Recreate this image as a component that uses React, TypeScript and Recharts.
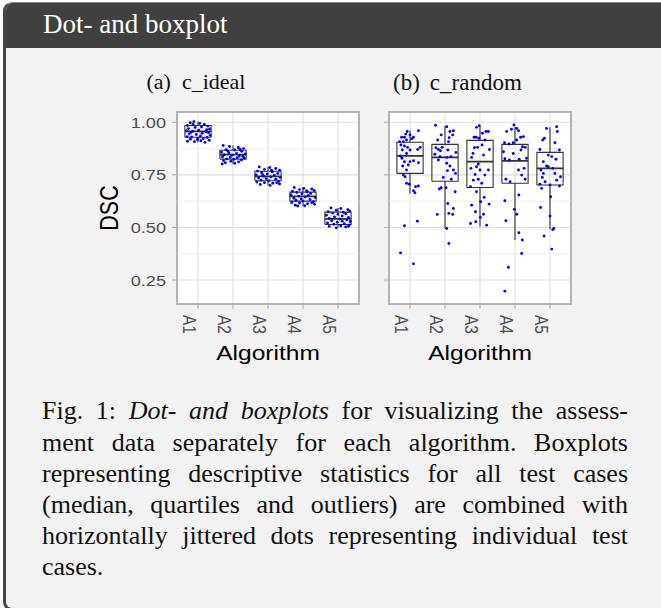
import React from 'react';
import {
  ComposedChart,
  XAxis,
  YAxis,
  CartesianGrid,
  Scatter,
  Line,
  ReferenceLine,
  ReferenceArea,
} from 'recharts';

// ---------- data ----------
const ALGORITHMS = ['A1', 'A2', 'A3', 'A4', 'A5'];
const Y_TICKS = [0.25, 0.5, 0.75, 1.0];
const Y_MINOR = [0.375, 0.625, 0.875];
const Y_DOMAIN: [number, number] = [0.136, 1.049];
const X_DOMAIN: [number, number] = [0.4, 5.6];

// each point: [horizontal jitter (category units), DSC]
const idealA1 = [
  [-0.3, 0.985], [-0.22, 0.998], [-0.12, 1.003], [0.05, 0.995], [0.18, 0.99], [0.28, 0.982],
  [-0.27, 0.97], [-0.08, 0.975], [0.1, 0.978], [0.33, 0.968], [-0.33, 0.96], [-0.15, 0.958],
  [0.02, 0.962], [0.22, 0.955], [0.3, 0.95], [-0.25, 0.945], [-0.05, 0.942], [0.12, 0.948],
  [0.35, 0.938], [-0.31, 0.932], [-0.18, 0.93], [0.07, 0.935], [0.26, 0.928], [-0.22, 0.92],
  [-0.02, 0.918], [0.15, 0.922], [0.32, 0.915], [-0.3, 0.91], [-0.1, 0.908], [0.2, 0.905],
  [0.08, 0.912], [-0.14, 0.99], [0.25, 0.965], [-0.2, 0.952], [0.0, 0.925],
];
const idealA2 = [
  [-0.28, 0.89], [-0.1, 0.885], [0.15, 0.88], [0.3, 0.875], [-0.2, 0.87], [0.05, 0.868],
  [0.25, 0.862], [-0.33, 0.858], [-0.12, 0.855], [0.1, 0.852], [0.35, 0.85], [-0.25, 0.846],
  [-0.03, 0.843], [0.18, 0.84], [-0.3, 0.836], [-0.08, 0.834], [0.12, 0.832], [0.32, 0.83],
  [-0.18, 0.826], [0.02, 0.824], [0.24, 0.821], [-0.27, 0.818], [-0.06, 0.815], [0.16, 0.812],
  [-0.22, 0.808], [0.05, 0.805], [-0.31, 0.802], [0.28, 0.838], [-0.15, 0.864], [0.2, 0.872],
];
const idealA3 = [
  [-0.25, 0.788], [0.05, 0.785], [0.22, 0.78], [-0.1, 0.776], [0.33, 0.772], [-0.3, 0.768],
  [0.12, 0.765], [-0.18, 0.76], [0.28, 0.757], [-0.02, 0.754], [-0.34, 0.75], [0.18, 0.747],
  [-0.12, 0.744], [0.08, 0.74], [0.35, 0.738], [-0.27, 0.735], [-0.05, 0.732], [0.22, 0.729],
  [-0.2, 0.725], [0.02, 0.722], [0.3, 0.719], [-0.32, 0.716], [-0.1, 0.713], [0.14, 0.71],
  [0.33, 0.707], [-0.22, 0.704], [0.06, 0.7], [0.25, 0.712], [-0.15, 0.75], [0.1, 0.772],
];
const idealA4 = [
  [-0.25, 0.69], [0.02, 0.686], [0.25, 0.683], [-0.1, 0.68], [0.32, 0.676], [-0.3, 0.672],
  [0.12, 0.67], [-0.18, 0.666], [0.22, 0.662], [-0.03, 0.659], [-0.34, 0.655], [0.15, 0.652],
  [-0.12, 0.649], [0.06, 0.645], [0.35, 0.642], [-0.26, 0.639], [-0.05, 0.636], [0.2, 0.633],
  [-0.2, 0.629], [0.0, 0.626], [0.3, 0.623], [-0.32, 0.619], [-0.1, 0.616], [0.13, 0.613],
  [0.33, 0.61], [-0.22, 0.606], [0.05, 0.603], [0.25, 0.617], [-0.15, 0.602], [0.1, 0.675],
];
const idealA5 = [
  [-0.2, 0.593], [0.08, 0.59], [0.28, 0.585], [-0.05, 0.582], [0.33, 0.578], [-0.28, 0.575],
  [0.15, 0.572], [-0.15, 0.568], [0.22, 0.565], [0.0, 0.562], [-0.33, 0.558], [0.12, 0.555],
  [-0.1, 0.55], [0.3, 0.547], [-0.25, 0.543], [0.05, 0.54], [0.25, 0.536], [-0.18, 0.532],
  [0.35, 0.528], [-0.02, 0.525], [-0.3, 0.521], [0.18, 0.518], [-0.12, 0.515], [0.32, 0.512],
  [0.08, 0.508], [-0.25, 0.505], [0.22, 0.502], [-0.05, 0.498], [0.3, 0.506], [0.12, 0.53],
];

const randomA1 = [
  [0.24, 0.96], [-0.08, 0.956], [-0.12, 0.944], [0.0, 0.94], [-0.24, 0.929], [-0.16, 0.929],
  [-0.3, 0.908], [-0.19, 0.908], [-0.1, 0.916], [0.05, 0.922], [0.1, 0.929], [-0.26, 0.892],
  [-0.16, 0.887], [0.29, 0.881], [0.22, 0.871], [-0.22, 0.868], [0.0, 0.868], [-0.07, 0.881],
  [-0.27, 0.84], [-0.23, 0.829], [-0.1, 0.852], [-0.16, 0.813], [0.0, 0.813], [0.1, 0.817],
  [0.24, 0.808], [-0.21, 0.792], [-0.05, 0.797], [-0.1, 0.773], [-0.19, 0.749], [-0.14, 0.741],
  [-0.1, 0.71], [-0.02, 0.706], [0.16, 0.694], [0.24, 0.697], [0.14, 0.665], [0.1, 0.675],
  [-0.16, 0.508], [0.21, 0.53], [-0.27, 0.379], [0.1, 0.327],
];
const randomA2 = [
  [-0.27, 0.986], [0.05, 0.979], [0.24, 0.96], [0.14, 0.956], [-0.11, 0.94], [0.22, 0.94],
  [-0.21, 0.916], [0.12, 0.927], [0.1, 0.908], [-0.26, 0.879], [-0.19, 0.871], [-0.13, 0.865],
  [-0.08, 0.881], [0.08, 0.868], [-0.29, 0.848], [-0.14, 0.837], [0.05, 0.833], [0.17, 0.837],
  [0.31, 0.857], [-0.19, 0.821], [0.05, 0.805], [0.14, 0.792], [0.07, 0.77], [0.24, 0.773],
  [0.3, 0.757], [-0.05, 0.738], [0.18, 0.729], [-0.11, 0.689], [-0.16, 0.683], [0.03, 0.689],
  [0.08, 0.614], [0.24, 0.59], [0.11, 0.567], [0.22, 0.562], [-0.22, 0.562], [0.05, 0.495],
  [0.11, 0.424], [0.29, 0.67],
];
const randomA3 = [
  [-0.02, 0.984], [-0.1, 0.976], [0.17, 0.956], [0.07, 0.948], [0.24, 0.956], [-0.17, 0.929],
  [-0.11, 0.929], [-0.03, 0.924], [-0.16, 0.879], [-0.07, 0.881], [0.06, 0.892], [0.14, 0.916],
  [-0.2, 0.852], [-0.24, 0.833], [0.1, 0.844], [0.27, 0.871], [-0.05, 0.802], [-0.1, 0.789],
  [-0.26, 0.781], [0.0, 0.773], [-0.14, 0.752], [0.14, 0.749], [0.24, 0.773], [-0.19, 0.725],
  [-0.05, 0.729], [0.05, 0.71], [-0.27, 0.694], [-0.1, 0.67], [0.12, 0.643], [0.02, 0.622],
  [-0.24, 0.606], [0.26, 0.611], [-0.13, 0.575], [0.1, 0.563], [-0.27, 0.519], [-0.12, 0.527],
  [0.19, 0.511], [0.01, 0.548],
];
const randomA4 = [
  [-0.03, 0.987], [0.05, 0.971], [-0.1, 0.967], [0.1, 0.96], [-0.24, 0.956], [0.16, 0.929],
  [0.24, 0.932], [0.05, 0.916], [-0.05, 0.903], [-0.3, 0.903], [-0.17, 0.897], [0.21, 0.884],
  [0.29, 0.881], [0.17, 0.868], [-0.33, 0.86], [-0.05, 0.852], [0.12, 0.824], [-0.29, 0.827],
  [-0.16, 0.821], [0.33, 0.829], [0.26, 0.781], [0.1, 0.773], [0.19, 0.749], [0.29, 0.729],
  [-0.26, 0.729], [-0.14, 0.717], [0.11, 0.654], [-0.29, 0.627], [-0.02, 0.586], [0.05, 0.563],
  [-0.26, 0.532], [0.11, 0.475], [0.21, 0.44], [0.19, 0.376], [-0.19, 0.311], [-0.29, 0.197],
];
const randomA5 = [
  [-0.1, 0.971], [0.19, 0.979], [0.21, 0.956], [-0.21, 0.916], [-0.16, 0.924], [0.14, 0.903],
  [0.27, 0.868], [-0.29, 0.871], [-0.05, 0.844], [0.17, 0.824], [0.05, 0.837], [-0.19, 0.813],
  [-0.1, 0.792], [-0.26, 0.773], [0.08, 0.781], [-0.19, 0.757], [-0.22, 0.738], [-0.14, 0.717],
  [-0.29, 0.706], [0.0, 0.702], [0.27, 0.697], [0.19, 0.725], [0.3, 0.741], [-0.24, 0.686],
  [0.02, 0.646], [0.0, 0.554], [-0.27, 0.595], [0.08, 0.49], [0.11, 0.495], [-0.17, 0.459],
  [0.05, 0.397], [-0.05, 0.789], [0.14, 0.757],
];

// box statistics: [lower whisker, Q1, median, Q3, upper whisker]
const idealBoxes = [
  [0.905, 0.929, 0.957, 0.985, 1.003],
  [0.802, 0.825, 0.846, 0.867, 0.89],
  [0.7, 0.722, 0.743, 0.767, 0.788],
  [0.602, 0.625, 0.648, 0.668, 0.69],
  [0.498, 0.514, 0.541, 0.573, 0.593],
];
const randomBoxes = [
  [0.662, 0.757, 0.84, 0.905, 0.96],
  [0.495, 0.72, 0.833, 0.895, 0.982],
  [0.503, 0.69, 0.813, 0.914, 0.983],
  [0.44, 0.71, 0.817, 0.895, 0.979],
  [0.49, 0.702, 0.781, 0.857, 0.976],
];

const HEADER_TITLE = 'Dot- and boxplot';
const CAPTION_LINES = [
  'ment data separately for each algorithm. Boxplots',
  'representing descriptive statistics for all test cases',
  '(median, quartiles and outliers) are combined with',
  'horizontally jittered dots representing individual test',
];

// ---------- layout / style ----------
const FONT_SANS = '"Liberation Sans", Arial, Helvetica, sans-serif';
const FONT_SERIF = '"Liberation Serif", "Times New Roman", Times, serif';
const SX = 1.17; // horizontal stretch of the chart lettering
const PLOT_W = 182;
const PLOT_H = 192;
const MARGIN_TOP = 12;
const MARGIN_RIGHT = 7;
const XAXIS_H = 68;
const BOX_HALF = 0.375;
const TICK_GREY = '#4d4d4d';
const BORDER_GREY = '#b3b3b3';

function buildBoxLines(boxes: number[][]) {
  const outline: any[] = [];
  const medians: any[] = [];
  boxes.forEach(([mn, q1, md, q3, mx], i) => {
    const c = i + 1;
    outline.push(
      { x: c - BOX_HALF, y: q1 },
      { x: c + BOX_HALF, y: q1 },
      { x: c + BOX_HALF, y: q3 },
      { x: c - BOX_HALF, y: q3 },
      { x: c - BOX_HALF, y: q1 },
      { x: c, y: null },
      { x: c, y: q3 },
      { x: c, y: mx },
      { x: c, y: null },
      { x: c, y: q1 },
      { x: c, y: mn },
      { x: c, y: null }
    );
    medians.push({ x: c - BOX_HALF, y: md }, { x: c + BOX_HALF, y: md }, { x: c, y: null });
  });
  return { outline, medians };
}

const XTick = (props: any) => {
  const { x, y, payload } = props;
  return (
    <g transform={`translate(${x},${y}) scale(${SX},1) rotate(90)`}>
      <text x={6} y={12.8} textAnchor="start" fontSize={15.5} fontFamily={FONT_SANS} fill={TICK_GREY}>
        {ALGORITHMS[Math.round(payload.value) - 1]}
      </text>
    </g>
  );
};

const YTick = (props: any) => {
  const { x, y, payload } = props;
  return (
    <g transform={`translate(${x},${y}) scale(${SX},1)`}>
      <text x={0} y={0} dy="0.355em" textAnchor="end" fontSize={15.5} fontFamily={FONT_SANS} fill={TICK_GREY}>
        {Number(payload.value).toFixed(2)}
      </text>
    </g>
  );
};

const EmptyTick = () => <g />;

function Panel({
  dots,
  boxes,
  left,
  yAxisWidth,
  showYLabels,
}: {
  dots: number[][][];
  boxes: number[][];
  left: number;
  yAxisWidth: number;
  showYLabels: boolean;
}) {
  const width = yAxisWidth + PLOT_W + MARGIN_RIGHT;
  const height = MARGIN_TOP + PLOT_H + XAXIS_H;
  const points = dots.flatMap((grp, i) => grp.map(([j, v]) => ({ x: i + 1 + j, y: v })));
  const { outline, medians } = buildBoxLines(boxes);
  const plotCenterX = yAxisWidth + PLOT_W / 2;
  const plotBottom = MARGIN_TOP + PLOT_H;

  const xLabel = () => (
    <g transform={`translate(${plotCenterX},${plotBottom + 56}) scale(${SX},1)`}>
      <text x={0} y={0} textAnchor="middle" fontSize={21} fontFamily={FONT_SANS} fill="#000">
        Algorithm
      </text>
    </g>
  );
  const yLabel = () => (
    <g transform={`translate(${21},${MARGIN_TOP + PLOT_H / 2}) scale(${SX},1) rotate(-90)`}>
      <text x={0} y={0} dy="0.36em" textAnchor="middle" fontSize={21.5} fontFamily={FONT_SANS} fill="#000">
        DSC
      </text>
    </g>
  );

  return (
    <div style={{ position: 'absolute', left, top: 100, width, height }}>
      <ComposedChart
        width={width}
        height={height}
        margin={{ top: MARGIN_TOP, right: MARGIN_RIGHT, bottom: 0, left: 0 }}
      >
        <CartesianGrid stroke="#dedede" strokeWidth={1.1} fill="#ffffff" />
        {Y_MINOR.map((v) => (
          <ReferenceLine key={v} y={v} stroke="#ececec" strokeWidth={0.9} />
        ))}
        <XAxis
          type="number"
          dataKey="x"
          domain={X_DOMAIN}
          ticks={[1, 2, 3, 4, 5]}
          allowDataOverflow
          axisLine={false}
          tickLine={{ stroke: BORDER_GREY, strokeWidth: 1.2 }}
          tickSize={5}
          tickMargin={0}
          height={XAXIS_H}
          tick={XTick}
          interval={0}
          label={xLabel}
        />
        <YAxis
          type="number"
          dataKey="y"
          domain={Y_DOMAIN}
          ticks={Y_TICKS}
          allowDataOverflow
          axisLine={false}
          tickLine={{ stroke: BORDER_GREY, strokeWidth: 1.2 }}
          tickSize={5}
          tickMargin={6}
          width={yAxisWidth}
          tick={showYLabels ? YTick : EmptyTick}
          interval={0}
          label={showYLabels ? yLabel : undefined}
        />
        <ReferenceArea
          x1={X_DOMAIN[0]}
          x2={X_DOMAIN[1]}
          y1={Y_DOMAIN[0]}
          y2={Y_DOMAIN[1]}
          fill="none"
          fillOpacity={0}
          stroke={BORDER_GREY}
          strokeWidth={2}
        />
        <Line
          data={outline}
          dataKey="y"
          stroke="#333333"
          strokeWidth={1.1}
          dot={false}
          activeDot={false}
          connectNulls={false}
          isAnimationActive={false}
          type="linear"
        />
        <Line
          data={medians}
          dataKey="y"
          stroke="#333333"
          strokeWidth={1.8}
          dot={false}
          activeDot={false}
          connectNulls={false}
          isAnimationActive={false}
          type="linear"
        />
        <Scatter
          data={points}
          dataKey="y"
          isAnimationActive={false}
          shape={(p: any) => <circle cx={p.cx} cy={p.cy} r={1.45} fill="#0000ff" />}
        />
      </ComposedChart>
    </div>
  );
}

const serifText: React.CSSProperties = {
  fontFamily: FONT_SERIF,
  color: '#111',
};

export default function App() {
  const captionLineStyle = (i: number): React.CSSProperties => ({
    position: 'absolute',
    left: 42,
    top: 395.3 + i * 31.2,
    width: 586,
    fontSize: 26,
    lineHeight: '31.2px',
    whiteSpace: 'nowrap',
    textAlign: 'justify',
    textAlignLast: 'justify' as any,
    ...serifText,
  });

  return (
    <div style={{ position: 'absolute', left: 0, top: 0, width: 661, height: 608, overflow: 'hidden', background: '#ffffff' }}>
      <div
        style={{
          position: 'absolute',
          left: 3,
          top: 2,
          width: 720,
          height: 609,
          boxSizing: 'border-box',
          border: '3px solid #454545',
          borderTop: '1px solid #8a8a8a',
          borderRadius: 9,
          background: '#f2f2f2',
          overflow: 'hidden',
        }}
      >
        <div style={{ position: 'absolute', left: 0, top: 0, width: '100%', height: 45.3, background: '#404040' }} />
      </div>

      <div
        style={{
          position: 'absolute',
          left: 43,
          top: 11,
          fontFamily: FONT_SERIF,
          fontSize: 27,
          lineHeight: 1,
          color: '#ffffff',
          whiteSpace: 'nowrap',
        }}
      >
        {HEADER_TITLE}
      </div>

      <div style={{ position: 'absolute', left: 146.5, top: 71.4, fontSize: 22, lineHeight: 1, whiteSpace: 'nowrap', ...serifText }}>
        (a)<span style={{ marginLeft: 11 }}>c_ideal</span>
      </div>
      <div style={{ position: 'absolute', left: 393, top: 71.4, fontSize: 23, lineHeight: 1, whiteSpace: 'nowrap', ...serifText }}>
        (b)<span style={{ marginLeft: 10 }}>c_random</span>
      </div>

      <Panel
        dots={[idealA1, idealA2, idealA3, idealA4, idealA5]}
        boxes={idealBoxes}
        left={88}
        yAxisWidth={89}
        showYLabels
      />
      <Panel
        dots={[randomA1, randomA2, randomA3, randomA4, randomA5]}
        boxes={randomBoxes}
        left={379}
        yAxisWidth={10}
        showYLabels={false}
      />

      <div style={captionLineStyle(0)}>
        Fig. 1: <i>Dot- and boxplots</i> for visualizing the assess-
      </div>
      {CAPTION_LINES.map((line, i) => (
        <div key={i} style={captionLineStyle(i + 1)}>
          {line}
        </div>
      ))}
      <div style={{ ...captionLineStyle(5), textAlignLast: 'left' as any }}>cases.</div>
    </div>
  );
}
